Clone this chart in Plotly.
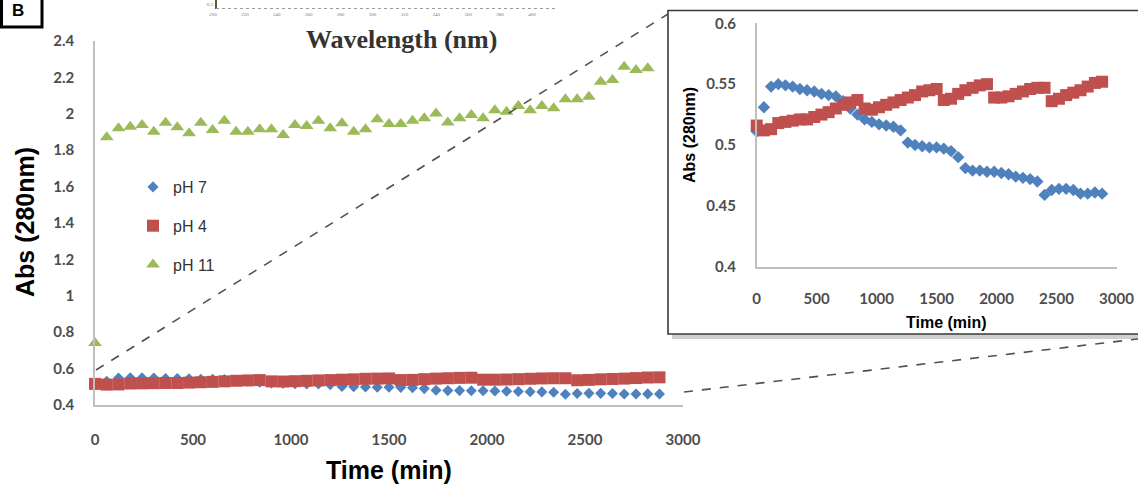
import plotly.graph_objects as go

W, H = 1138, 495

# ---------------- data ----------------
time_ph7_ph4 = [0, 60, 120, 180, 240, 300, 360, 420, 480, 540, 600, 660, 720, 780, 840, 900,
                960, 1020, 1080, 1140, 1200, 1260, 1320, 1380, 1440, 1500, 1560, 1620, 1680,
                1740, 1800, 1860, 1920, 1980, 2040, 2100, 2160, 2220, 2280, 2340, 2400, 2460,
                2520, 2580, 2640, 2700, 2760, 2820, 2880]

abs_ph7 = [0.511, 0.531, 0.548, 0.550, 0.549, 0.548, 0.546, 0.545, 0.544, 0.542, 0.541, 0.540,
           0.536, 0.530, 0.525, 0.521, 0.519, 0.517, 0.516, 0.515, 0.512, 0.502, 0.500, 0.499,
           0.498, 0.498, 0.497, 0.495, 0.490, 0.481, 0.479, 0.479, 0.478, 0.478, 0.477, 0.476,
           0.474, 0.473, 0.472, 0.470, 0.459, 0.463, 0.464, 0.464, 0.463, 0.460, 0.460, 0.461,
           0.460]

abs_ph4 = [0.516, 0.512, 0.513, 0.518, 0.519, 0.520, 0.521, 0.521, 0.523, 0.525, 0.527, 0.530,
           0.533, 0.535, 0.537, 0.530, 0.529, 0.531, 0.533, 0.535, 0.537, 0.539, 0.541, 0.544,
           0.545, 0.546, 0.537, 0.538, 0.542, 0.545, 0.547, 0.549, 0.550, 0.539, 0.539, 0.540,
           0.542, 0.544, 0.546, 0.547, 0.547, 0.536, 0.538, 0.541, 0.543, 0.545, 0.548, 0.551,
           0.552]

time_ph11 = [0, 60, 120, 180, 240, 300, 360, 420, 480, 540, 600, 660, 720, 780, 840, 900,
             960, 1020, 1080, 1140, 1200, 1260, 1320, 1380, 1440, 1500, 1560, 1620, 1680,
             1740, 1800, 1860, 1920, 1980, 2040, 2100, 2160, 2220, 2280, 2340, 2400, 2460,
             2520, 2580, 2640, 2700, 2760, 2820]

abs_ph11 = [0.74, 1.871, 1.920, 1.929, 1.938, 1.902, 1.951, 1.926, 1.893, 1.951, 1.911, 1.962,
            1.902, 1.902, 1.915, 1.915, 1.884, 1.938, 1.933, 1.962, 1.920, 1.948, 1.902, 1.915,
            1.970, 1.944, 1.944, 1.962, 1.975, 2.002, 1.952, 1.975, 1.993, 1.975, 2.020, 2.011,
            2.043, 2.020, 2.043, 2.030, 2.080, 2.080, 2.094, 2.176, 2.186, 2.259, 2.241, 2.250]

series_names = ["pH 7", "pH 4", "pH 11"]
main_yticks = [0.4, 0.6, 0.8, 1.0, 1.2, 1.4, 1.6, 1.8, 2.0, 2.2, 2.4]
main_yticktext = ["0.4", "0.6", "0.8", "1", "1.2", "1.4", "1.6", "1.8", "2", "2.2", "2.4"]
inset_yticks = [0.4, 0.45, 0.5, 0.55, 0.6]
inset_yticktext = ["0.4", "0.45", "0.5", "0.55", "0.6"]
time_ticks = [0, 500, 1000, 1500, 2000, 2500, 3000]
wavelength_ticks = [200, 220, 240, 260, 280, 300, 320, 340, 360, 380, 400]

# ---------------- style ----------------
BLUE, RED, GREEN = "#4F81BD", "#C0504D", "#9BBB59"
TICK_FONT = dict(family="Lato, Arial, sans-serif", size=15, color="#4d4d4d", weight="bold")
AX_LINE = "#BFBFBF"


def px(x):
    return x / W


def py(y):
    return 1 - y / H


fig = go.Figure()

# main chart
fig.add_trace(go.Scatter(x=time_ph7_ph4, y=abs_ph7, mode="markers", name=series_names[0],
                         legendgroup="a",
                         marker=dict(symbol="diamond", size=8.5, color=BLUE),
                         xaxis="x", yaxis="y", cliponaxis=False))
fig.add_trace(go.Scatter(x=time_ph7_ph4, y=abs_ph4, mode="markers", name=series_names[1],
                         legendgroup="b",
                         marker=dict(symbol="square", size=12, color=RED),
                         xaxis="x", yaxis="y", cliponaxis=False))
fig.add_trace(go.Scatter(x=time_ph11, y=abs_ph11, mode="markers", name=series_names[2],
                         legendgroup="c",
                         marker=dict(symbol="triangle-up", size=12, color=GREEN),
                         xaxis="x", yaxis="y", cliponaxis=False))

# inset chart
fig.add_trace(go.Scatter(x=time_ph7_ph4, y=abs_ph7, mode="markers", showlegend=False,
                         marker=dict(symbol="diamond", size=9.5, color=BLUE),
                         xaxis="x2", yaxis="y2", cliponaxis=False))
fig.add_trace(go.Scatter(x=time_ph7_ph4, y=abs_ph4, mode="markers", showlegend=False,
                         marker=dict(symbol="square", size=12, color=RED),
                         xaxis="x2", yaxis="y2", cliponaxis=False))

# remnant of the spectrum panel above (tick labels only)
fig.add_trace(go.Scatter(x=[300], y=[0.5], mode="markers", showlegend=False,
                         marker=dict(size=1, color="rgba(0,0,0,0)"),
                         xaxis="x3", yaxis="y3", hoverinfo="skip"))

axis_common = dict(showgrid=False, zeroline=False, showline=True, linecolor=AX_LINE,
                   linewidth=1.5, ticks="", tickfont=TICK_FONT, automargin=False)

fig.update_layout(
    width=W, height=H, autosize=False,
    margin=dict(l=0, r=0, t=0, b=0, pad=0, autoexpand=False),
    paper_bgcolor="white", plot_bgcolor="rgba(0,0,0,0)",
    xaxis=dict(domain=[px(95), px(683)], range=[0, 3000], tickvals=time_ticks,
               anchor="y", ticklabelstandoff=20, **axis_common),
    yaxis=dict(domain=[py(405), py(41)], range=[0.4, 2.4], tickvals=main_yticks,
               ticktext=main_yticktext, anchor="x", ticklabelstandoff=16, **axis_common),
    xaxis2=dict(domain=[px(756.7), px(1116.5)], range=[0, 3000], tickvals=time_ticks,
                anchor="y2", ticklabelstandoff=18, **axis_common),
    yaxis2=dict(domain=[py(266.7), py(23.3)], range=[0.4, 0.6], tickvals=inset_yticks,
                ticktext=inset_yticktext, anchor="x2", ticklabelstandoff=16, **axis_common),
    xaxis3=dict(domain=[px(209.8), px(554.3)], range=[198, 414], tickvals=wavelength_ticks,
                anchor="y3", showgrid=False, zeroline=False, showline=False, ticks="",
                tickfont=dict(family="Liberation Serif", size=5, color="#777777"),
                ticklabelstandoff=1),
    yaxis3=dict(domain=[py(9), 1.0], range=[0.4, 0.6], tickvals=[0.5], anchor="free",
                position=px(216), showgrid=False, zeroline=False, showline=True,
                linecolor="#5c5c30", linewidth=2, ticks="",
                tickfont=dict(family="Liberation Serif", size=5, color="#777777"),
                ticklabelstandoff=1),
    legend=dict(x=px(133), y=py(170), xanchor="left", yanchor="top",
                font=dict(family="Arial, Liberation Sans, sans-serif", size=16, color="#333333"),
                bgcolor="rgba(0,0,0,0)", traceorder="grouped", tracegroupgap=15),
    showlegend=True,
)

shapes = [
    # inset shadow + frame
    dict(type="rect", xref="paper", yref="paper", x0=px(672), x1=px(1150), y0=py(339), y1=py(14),
         fillcolor="#cfcfcf", line=dict(width=0), layer="below"),
    dict(type="rect", xref="paper", yref="paper", x0=px(668), x1=px(1146), y0=py(334), y1=py(10.5),
         fillcolor="white", line=dict(color="#3a3a3a", width=1.6), layer="below"),
    # zoom connector lines
    dict(type="line", xref="paper", yref="paper", x0=px(96), y0=py(370), x1=px(668), y1=py(14),
         line=dict(color="#505050", width=1.6, dash="dash"), layer="above"),
    dict(type="line", xref="paper", yref="paper", x0=px(684), y0=py(392), x1=px(1138), y1=py(339),
         line=dict(color="#505050", width=1.6, dash="dash"), layer="above"),
    # panel label box
    dict(type="rect", xref="paper", yref="paper", x0=px(1.5), x1=px(42), y0=py(27), y1=py(-10),
         fillcolor="white", line=dict(color="black", width=3), layer="above"),
    # dotted axis of the spectrum panel above
    dict(type="line", xref="paper", yref="paper", x0=px(216), y0=py(8.5), x1=px(555), y1=py(8.5),
         line=dict(color="#9a9a9a", width=1.2, dash="dot"), layer="above"),
]
fig.update_layout(shapes=shapes)

annotations = [
    dict(text="<b>Abs (280nm)</b>", x=px(25), y=py(222), xref="paper", yref="paper",
         textangle=-90, showarrow=False, xanchor="center", yanchor="middle",
         font=dict(family="Arial, Liberation Sans, sans-serif", size=25, color="black")),
    dict(text="<b>Time (min)</b>", x=px(389), y=py(470), xref="paper", yref="paper",
         showarrow=False, xanchor="center", yanchor="middle",
         font=dict(family="Arial, Liberation Sans, sans-serif", size=25, color="black")),
    dict(text="<b>Abs (280nm)</b>", x=px(689), y=py(135), xref="paper", yref="paper",
         textangle=-90, showarrow=False, xanchor="center", yanchor="middle",
         font=dict(family="Arial, Liberation Sans, sans-serif", size=16, color="black")),
    dict(text="<b>Time (min)</b>", x=px(946), y=py(322), xref="paper", yref="paper",
         showarrow=False, xanchor="center", yanchor="middle",
         font=dict(family="Arial, Liberation Sans, sans-serif", size=16, color="black")),
    dict(text="<b>Wavelength (nm)</b>", x=px(401), y=py(40), xref="paper", yref="paper",
         showarrow=False, xanchor="center", yanchor="middle",
         font=dict(family="Liberation Serif, Times New Roman, serif", size=26, color="#333333")),
    dict(text="<b>B</b>", x=px(18), y=py(-1), xref="paper", yref="paper",
         showarrow=False, xanchor="center", yanchor="top",
         font=dict(family="Arial, Liberation Sans, sans-serif", size=17, color="black")),
]
fig.update_layout(annotations=annotations)

fig.write_html("out.html", config={"displayModeBar": False},
               post_script="document.body.style.margin='0';document.body.style.padding='0';")
